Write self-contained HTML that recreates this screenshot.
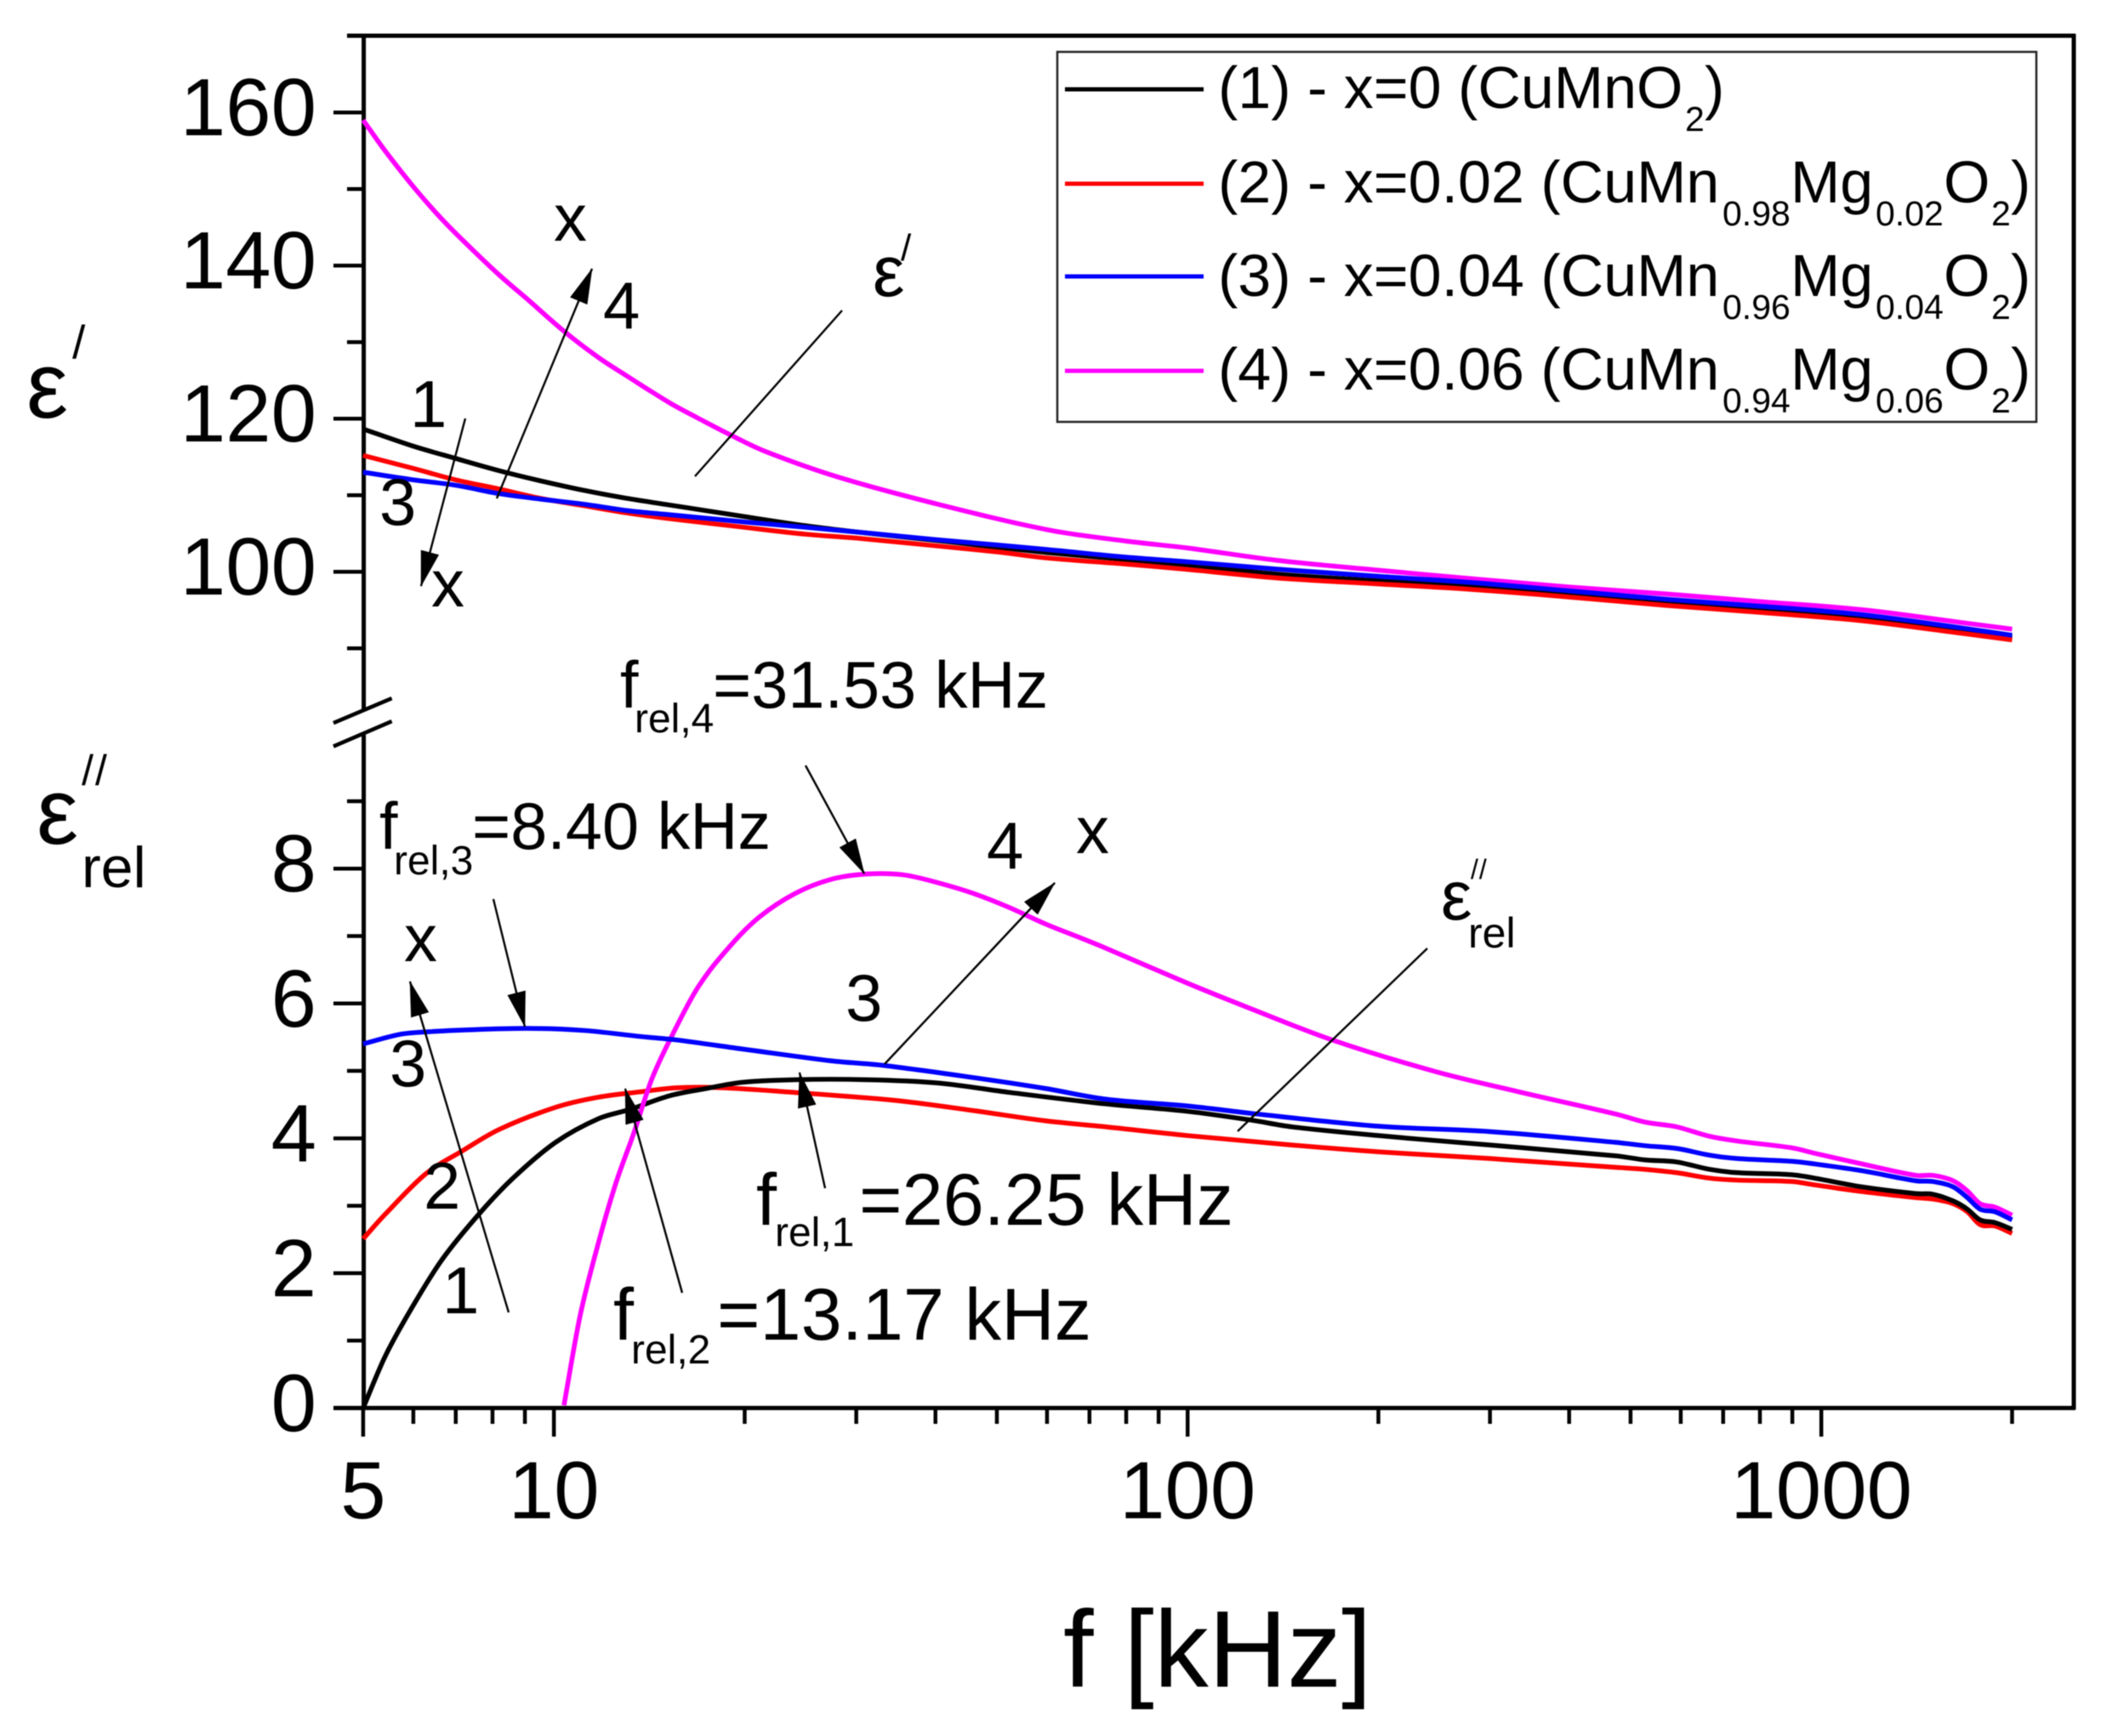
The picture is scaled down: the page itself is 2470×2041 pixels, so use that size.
<!DOCTYPE html>
<html lang="en">
<head>
<meta charset="utf-8">
<title>Dielectric permittivity vs frequency</title>
<style>
html,body{margin:0;padding:0;background:#fff;}
svg{display:block;filter:blur(0.6px);}
text{font-family:"Liberation Sans",sans-serif;fill:#000;}
.ann{font-size:78px;}
.ann2{font-size:77.5px;}
.ann3{font-size:86.5px;}
.sub{font-size:48px;}
.leg{font-size:70px;}
.legsub{font-size:41px;}
</style>
</head>
<body>
<svg id="chart" xmlns="http://www.w3.org/2000/svg" width="2470" height="2041" viewBox="0 0 2470 2041">
<defs>
<marker id="ah" markerUnits="userSpaceOnUse" markerWidth="42" markerHeight="22" refX="41" refY="11" orient="auto">
<path d="M0,0 L42,11 L0,22 Z" fill="#000"/>
</marker>
</defs>
<rect width="2470" height="2041" fill="#fff"/>
<g id="axes"></g>
<g id="series"></g>

<g>
<rect x="1243" y="61" width="1151" height="435" fill="#fff" stroke="#222" stroke-width="2.5"/>
<g>
<line x1="1252" x2="1415" y1="105" y2="105" stroke="#000" stroke-width="5"/>
<text class="leg" x="1432" y="127">(1) - x=0 (CuMnO<tspan class="legsub" x="1981" y="154">2</tspan><tspan x="2004" y="127">)</tspan></text>
</g>
<g>
<line x1="1252" x2="1415" y1="216" y2="216" stroke="#f00" stroke-width="5"/>
<text class="leg" x="1432" y="238">(2) - x=0.02 (CuMn<tspan class="legsub" x="2025" y="265">0.98</tspan><tspan x="2105" y="238">Mg</tspan><tspan class="legsub" x="2205" y="265">0.02</tspan><tspan x="2285" y="238">O</tspan><tspan class="legsub" x="2341" y="265">2</tspan><tspan x="2364" y="238">)</tspan></text>
</g>
<g>
<line x1="1252" x2="1415" y1="325" y2="325" stroke="#00f" stroke-width="5"/>
<text class="leg" x="1432" y="348">(3) - x=0.04 (CuMn<tspan class="legsub" x="2025" y="375">0.96</tspan><tspan x="2105" y="348">Mg</tspan><tspan class="legsub" x="2205" y="375">0.04</tspan><tspan x="2285" y="348">O</tspan><tspan class="legsub" x="2341" y="375">2</tspan><tspan x="2364" y="348">)</tspan></text>
</g>
<g>
<line x1="1252" x2="1415" y1="436" y2="436" stroke="#f0f" stroke-width="5"/>
<text class="leg" x="1432" y="458">(4) - x=0.06 (CuMn<tspan class="legsub" x="2025" y="485">0.94</tspan><tspan x="2105" y="458">Mg</tspan><tspan class="legsub" x="2205" y="485">0.06</tspan><tspan x="2285" y="458">O</tspan><tspan class="legsub" x="2341" y="485">2</tspan><tspan x="2364" y="458">)</tspan></text>
</g>
</g>

<g>
<text x="1250" y="1983" font-size="128">f [kHz]</text>
<g>
<text x="31" y="491" font-size="110">ε</text>
<text x="85" y="421" font-size="55">/</text>
</g>
<g>
<text x="43" y="992" font-size="110">ε</text>
<text x="96" y="923" font-size="50" letter-spacing="2">//</text>
<text x="96" y="1043" font-size="68">rel</text>
</g>
</g>

<g stroke="#000" stroke-width="2.4" fill="none">
<line x1="990" y1="365" x2="817" y2="560"/>
<line x1="1678" y1="1115" x2="1455" y2="1330"/>
<line x1="584" y1="586" x2="696" y2="316" marker-end="url(#ah)"/>
<line x1="547" y1="492" x2="495" y2="689" marker-end="url(#ah)"/>
<line x1="598" y1="1543" x2="482" y2="1154" marker-end="url(#ah)"/>
<line x1="1040" y1="1251" x2="1240" y2="1038" marker-end="url(#ah)"/>
<line x1="947" y1="900" x2="1016" y2="1027" marker-end="url(#ah)"/>
<line x1="580" y1="1057" x2="617" y2="1207" marker-end="url(#ah)"/>
<line x1="802" y1="1520" x2="735" y2="1280" marker-end="url(#ah)"/>
<line x1="970" y1="1397" x2="940" y2="1261" marker-end="url(#ah)"/>
</g>

<g>
<text class="ann" x="651" y="283">x</text>
<text class="ann" x="709" y="386">4</text>
<text class="ann" x="482" y="502">1</text>
<text class="ann" x="446" y="617">3</text>
<text class="ann" x="507" y="713">x</text>
<text class="ann" x="475" y="1130">x</text>
<text class="ann" x="458" y="1277">3</text>
<text class="ann" x="498" y="1421">2</text>
<text class="ann" x="520" y="1544">1</text>
<text class="ann" x="994" y="1200">3</text>
<text class="ann" x="1160" y="1021">4</text>
<text class="ann" x="1265" y="1003">x</text>

<g>
<text x="1026" y="348" font-size="84">ε</text>
<text x="1059" y="306" font-size="44">/</text>
</g>
<g>
<text x="1694" y="1081" font-size="82">ε</text>
<text x="1729" y="1033" font-size="32" letter-spacing="1">//</text>
<text x="1726" y="1114" font-size="50">rel</text>
</g>

<text class="ann2" x="729" y="832">f<tspan class="sub" x="746" y="861">rel,4</tspan><tspan x="838" y="832">=31.53 kHz</tspan></text>
<text class="ann2" x="446" y="998">f<tspan class="sub" x="463" y="1028">rel,3</tspan><tspan x="555" y="998">=8.40 kHz</tspan></text>
<text class="ann3" x="889" y="1440">f<tspan class="sub" x="911" y="1465">rel,1</tspan><tspan x="1010" y="1440">=26.25 kHz</tspan></text>
<text class="ann3" x="721" y="1575">f<tspan class="sub" x="742" y="1603">rel,2</tspan><tspan x="843" y="1575">=13.17 kHz</tspan></text>
</g>

<script>
// ---------- chart data ----------
const xMajorTicks = [5, 10, 100, 1000];
const xMinorTicks = [6, 7, 8, 9, 20, 30, 40, 50, 60, 70, 80, 90, 200, 300, 400, 500, 600, 700, 800, 900, 2000];
const yUpperMajor = [100, 120, 140, 160];
const yUpperMinor = [90, 110, 130, 150, 170];
const yLowerMajor = [0, 2, 4, 6, 8];
const yLowerMinor = [1, 3, 5, 7, 9];

const upperFreq = [5, 6, 7, 8.2, 9.5, 11.2, 13, 15, 20, 25, 30, 40, 50, 60, 80, 100, 138, 200, 280, 400, 570, 800, 1159, 1652, 2000];
const upperBlack = [118.65, 116.4, 114.8, 113.2, 111.9, 110.6, 109.6, 108.8, 107.2, 106, 105.2, 104.1, 103.2, 102.5, 101.6, 100.9, 99.7, 98.8, 98, 97, 96, 95.1, 94, 92.4, 91.4];
const upperRed = [115.2, 113.5, 112, 110.8, 109.6, 108.6, 107.7, 107, 105.8, 104.9, 104.4, 103.4, 102.6, 101.8, 101, 100.3, 99.2, 98.4, 97.7, 96.7, 95.6, 94.7, 93.6, 92, 91.1];
const upperBlue = [113, 112, 111.3, 110.2, 109.5, 108.8, 108, 107.5, 106.5, 105.8, 105.2, 104.2, 103.5, 102.9, 101.9, 101.3, 100.35, 99.4, 98.6, 97.5, 96.4, 95.5, 94.4, 92.7, 91.7];
const upperMagentaFreq = [5, 5.425, 6.015, 6.666, 7.39, 8.19, 9.08, 10.38, 11.75, 13.02, 15.2, 16.85, 19.07, 21.58, 28, 40, 60, 80, 100, 138, 200, 280, 400, 570, 800, 1159, 1652, 2000];
const upperMagenta = [159, 154.9, 150.2, 146, 142.3, 138.8, 135.6, 131.4, 128, 125.6, 122.1, 120.1, 117.8, 115.7, 112.4, 108.9, 105.5, 104, 103.1, 101.5, 100.2, 99.1, 98, 97.1, 96.1, 95.05, 93.4, 92.5];

const lowerBlackFreq = [5, 5.425, 6.015, 6.67, 7.62, 8.62, 10.06, 11.75, 13.2, 15.2, 17.4, 19.8, 24, 31.15, 40.4, 52.4, 74.3, 100, 126, 146, 200, 300, 474, 527, 591, 666, 737, 897, 975, 1159, 1411, 1500, 1615, 1700, 1780, 1880, 2000];
const lowerBlack = [0, 0.78, 1.54, 2.21, 2.88, 3.41, 3.94, 4.29, 4.43, 4.63, 4.74, 4.83, 4.87, 4.87, 4.82, 4.68, 4.51, 4.40, 4.27, 4.17, 4.04, 3.90, 3.74, 3.68, 3.65, 3.54, 3.49, 3.46, 3.41, 3.28, 3.18, 3.17, 3.07, 2.95, 2.79, 2.75, 2.65];

const lowerRedFreq = [5, 5.425, 6.27, 7.16, 8.19, 10.06, 11.75, 13.7, 15.6, 18.5, 24, 28.4, 35.5, 46, 59.6, 74.3, 100, 146, 200, 300, 474, 527, 591, 666, 737, 897, 975, 1159, 1411, 1500, 1615, 1700, 1780, 1880, 2000];
const lowerRed = [2.51, 2.88, 3.47, 3.81, 4.13, 4.46, 4.61, 4.69, 4.75, 4.75, 4.68, 4.63, 4.55, 4.41, 4.26, 4.17, 4.04, 3.90, 3.80, 3.70, 3.57, 3.54, 3.49, 3.41, 3.38, 3.36, 3.31, 3.21, 3.12, 3.10, 3.03, 2.91, 2.72, 2.70, 2.59];

const lowerBlueFreq = [5, 5.7, 6.33, 7.39, 9.08, 11.16, 13.7, 15.6, 20, 27.35, 33.2, 46, 59.6, 74.3, 100, 126, 200, 300, 474, 527, 591, 666, 737, 897, 975, 1159, 1411, 1500, 1615, 1700, 1780, 1880, 2000];
const lowerBlue = [5.40, 5.54, 5.58, 5.61, 5.63, 5.60, 5.51, 5.46, 5.32, 5.15, 5.08, 4.90, 4.74, 4.58, 4.48, 4.37, 4.18, 4.10, 3.94, 3.89, 3.85, 3.75, 3.70, 3.66, 3.62, 3.52, 3.37, 3.36, 3.28, 3.12, 2.95, 2.91, 2.79];

const lowerMagentaFreq = [10.37, 11, 11.74, 12.52, 13.36, 14.26, 15.43, 16.9, 19, 21.08, 24, 27.35, 31.15, 35.48, 40.4, 46, 52.4, 59.6, 67.9, 74.3, 100, 126, 169, 246, 333, 474, 527, 591, 666, 737, 897, 975, 1159, 1411, 1500, 1615, 1700, 1780, 1880, 2000];
const lowerMagenta = [0.04, 1.37, 2.43, 3.33, 4.07, 4.87, 5.56, 6.25, 6.86, 7.28, 7.63, 7.84, 7.92, 7.91, 7.79, 7.63, 7.42, 7.18, 6.97, 6.82, 6.3, 5.92, 5.46, 4.99, 4.69, 4.36, 4.24, 4.17, 4.03, 3.96, 3.86, 3.78, 3.62, 3.45, 3.45, 3.37, 3.22, 3.03, 2.98, 2.86];

// ---------- axis functions ----------
const NS = 'http://www.w3.org/2000/svg';
const xScale = f => 651.2 + 745 * (Math.log10(f) - 1);
const yUpper = v => 672.2 - (v - 100) * 9;
const yLower = v => 1655.4 - v * 79.27;

const axes = document.getElementById('axes');
const seriesGroup = document.getElementById('series');

function addLine(parent, x1, y1, x2, y2, w, name) {
  const l = document.createElementNS(NS, 'line');
  l.setAttribute('x1', x1);
  l.setAttribute('y1', y1);
  l.setAttribute('x2', x2);
  l.setAttribute('y2', y2);
  l.setAttribute('stroke', '#000');
  l.setAttribute('stroke-width', w);
  
  
  parent.appendChild(l);
}
function addText(parent, x, y, str, anchor, name) {
  const t = document.createElementNS(NS, 'text');
  t.setAttribute('x', x);
  t.setAttribute('y', y);
  t.setAttribute('font-size', '96');
  t.setAttribute('text-anchor', anchor);
  t.textContent = str;
  
  
  parent.appendChild(t);
}

// frame
addLine(axes, 408, 42, 2440, 42, 5, 'top-axis-line');
addLine(axes, 2438, 40, 2438, 1657, 5, 'right-axis-line');
addLine(axes, 427.6, 40, 427.6, 836, 5, 'left-axis-line-upper');
addLine(axes, 427.6, 864, 427.6, 1657, 5, 'left-axis-line-lower');
addLine(axes, 392, 1655.4, 2440, 1655.4, 5, 'bottom-axis-line');
addLine(axes, 392, 850, 460.6, 821, 4.5, 'axis-break-mark-top');
addLine(axes, 392, 877.5, 460.6, 848, 4.5, 'axis-break-mark-bottom');

yUpperMajor.forEach(v => {
  addLine(axes, 392, yUpper(v), 427.6, yUpper(v), 4.5, 'y-upper-major-tick');
  addText(axes, 372, yUpper(v) + 27, String(v), 'end', 'y-upper-tick-label');
});
yUpperMinor.forEach(v => addLine(axes, 408, yUpper(v), 427.6, yUpper(v), 4.5, 'y-upper-minor-tick'));
yLowerMajor.forEach(v => {
  addLine(axes, 392, yLower(v), 427.6, yLower(v), 4.5, 'y-lower-major-tick');
  addText(axes, 372, yLower(v) + 27, String(v), 'end', 'y-lower-tick-label');
});
yLowerMinor.forEach(v => addLine(axes, 408, yLower(v), 427.6, yLower(v), 4.5, 'y-lower-minor-tick'));
xMajorTicks.forEach(f => {
  addLine(axes, xScale(f), 1655.4, xScale(f), 1689, 4.5, 'x-major-tick');
  addText(axes, xScale(f), 1785, String(f), 'middle', 'x-tick-label');
});
xMinorTicks.forEach(f => addLine(axes, xScale(f), 1655.4, xScale(f), 1674, 4.5, 'x-minor-tick'));

// smooth path through the points (Hermite with finite-difference slopes, x-aware)
function curve(freqs, vals, yFn) {
  const p = freqs.map((f, i) => [xScale(f), yFn(vals[i])]);
  const n = p.length;
  const slope = i => {
    const a = p[Math.max(0, i - 1)], b = p[Math.min(n - 1, i + 1)];
    return (b[1] - a[1]) / (b[0] - a[0]);
  };
  let d = 'M' + p[0][0].toFixed(1) + ',' + p[0][1].toFixed(1);
  for (let i = 0; i < n - 1; i++) {
    const b = p[i], c = p[i + 1], h = (c[0] - b[0]) / 3;
    d += 'C' + (b[0] + h).toFixed(1) + ',' + (b[1] + slope(i) * h).toFixed(1) + ' ' + (c[0] - h).toFixed(1) + ',' + (c[1] - slope(i + 1) * h).toFixed(1) + ' ' + c[0].toFixed(1) + ',' + c[1].toFixed(1);
  }
  return d;
}
function drawSeries(freqs, vals, yFn, color, name) {
  const el = document.createElementNS(NS, 'path');
  el.setAttribute('d', curve(freqs, vals, yFn));
  el.setAttribute('fill', 'none');
  el.setAttribute('stroke', color);
  el.setAttribute('stroke-width', '5.6');
  
  
  seriesGroup.appendChild(el);
}
drawSeries(upperFreq, upperBlack, yUpper, '#000', 'epsilon-prime-curve-1');
drawSeries(upperFreq, upperRed, yUpper, '#f00', 'epsilon-prime-curve-2');
drawSeries(upperMagentaFreq, upperMagenta, yUpper, '#f0f', 'epsilon-prime-curve-4');
drawSeries(upperFreq, upperBlue, yUpper, '#00f', 'epsilon-prime-curve-3');
drawSeries(lowerRedFreq, lowerRed, yLower, '#f00', 'epsilon-rel-curve-2');
drawSeries(lowerBlackFreq, lowerBlack, yLower, '#000', 'epsilon-rel-curve-1');
drawSeries(lowerMagentaFreq, lowerMagenta, yLower, '#f0f', 'epsilon-rel-curve-4');
drawSeries(lowerBlueFreq, lowerBlue, yLower, '#00f', 'epsilon-rel-curve-3');
</script>
</svg>
</body>
</html>
